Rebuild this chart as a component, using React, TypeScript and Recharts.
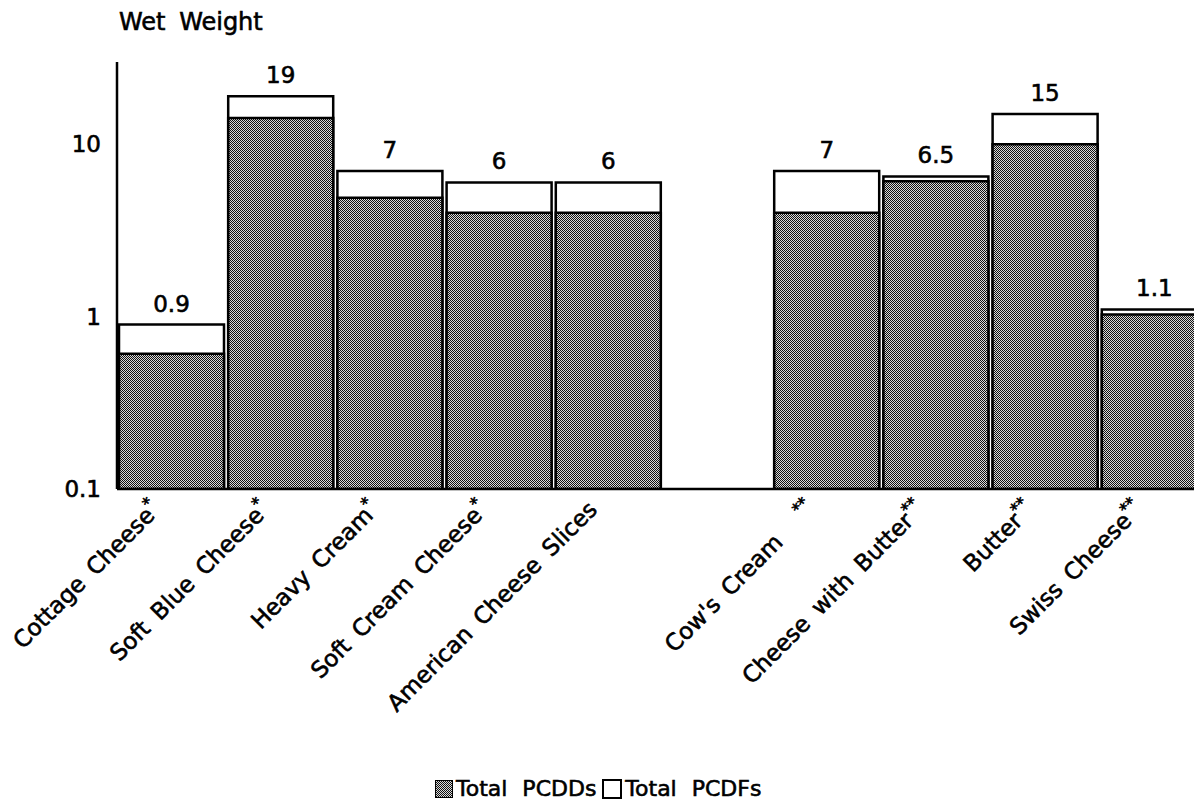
import React from 'react';
import { BarChart, Bar, XAxis, YAxis, LabelList, Tooltip } from 'recharts';

// 値は元図の対数目盛から読み取り（合計＝棒の上の数値、PCDDs＝網掛け部分の上端）
const categories = [
  'Cottage Cheese',
  'Soft Blue Cheese',
  'Heavy Cream',
  'Soft Cream Cheese',
  'American Cheese Slices',
  '',
  "Cow's Cream",
  'Cheese with Butter',
  'Butter',
  'Swiss Cheese',
];
const footnotes = ['*', '*', '*', '*', '', '', '   **', '**', '**', '**'];
const totalValues = [0.9, 19, 7, 6, 6, null, 7, 6.5, 15, 1.1];
const pcddValues = [0.61, 14.2, 4.9, 4.0, 4.0, null, 4.0, 6.1, 10, 1.03];
const yTicks = [0.1, 1, 10];

const FONT = '"DejaVu Sans", "Liberation Sans", sans-serif';
const DITHER_CSS = 'repeating-conic-gradient(#111 0 25%, #d9d9d9 0 50%) 0 0 / 2px 2px';
// スキャン原図の太めの文字に寄せるため、通常ウェイトに細いストロークを重ねる
const TEXT_STROKE = { stroke: '#000', strokeWidth: 0.6 };

const data = categories.map((name, i) => ({
  name,
  total: totalValues[i],
  pcdd: pcddValues[i],
  pcdf: totalValues[i] != null && pcddValues[i] != null ? +(totalValues[i]! - pcddValues[i]!).toFixed(2) : null,
}));

function FoodTick(props: any) {
  const { x, y, payload } = props;
  const label: string = payload?.value ?? '';
  if (!label) return null;
  const note = footnotes[categories.indexOf(label)];
  return (
    <g transform={`translate(${x - 10},${y + 14})`}>
      <text
        textAnchor="end"
        transform="rotate(-45)"
        fontSize={23}
        fill="#000"
        {...TEXT_STROKE}
        fontFamily={FONT}
        wordSpacing={5}
        style={{ whiteSpace: 'pre' }}
      >
        {label}
        {note && (
          <tspan fontSize={16} dy={-10}>
            {note}
          </tspan>
        )}
      </text>
    </g>
  );
}

export default function App() {
  return (
    <div
      style={{
        position: 'absolute',
        left: 0,
        top: 0,
        width: 1194,
        height: 801,
        overflow: 'hidden',
        background: '#fff',
        fontFamily: FONT,
        color: '#000',
        WebkitTextStroke: '0.6px #000',
      }}
    >
      <svg width={0} height={0} style={{ position: 'absolute' }}>
        <defs>
          <pattern id="pcddDither" width={2} height={2} patternUnits="userSpaceOnUse">
            <rect width={2} height={2} fill="#d9d9d9" />
            <rect width={1} height={1} fill="#111" />
            <rect x={1} y={1} width={1} height={1} fill="#111" />
          </pattern>
        </defs>
      </svg>

      <div style={{ position: 'absolute', left: 119, top: 10, fontSize: 24, lineHeight: '24px', wordSpacing: 6 }}>
        Wet Weight
      </div>

      <BarChart
        width={1210}
        height={801}
        data={data}
        margin={{ top: 62, right: 1, left: 0, bottom: 0 }}
        barCategoryGap={2}
      >
        <XAxis
          xAxisId="total"
          dataKey="name"
          height={312}
          interval={0}
          tickLine={false}
          axisLine={{ stroke: '#000', strokeWidth: 2.5 }}
          tick={<FoodTick />}
        />
        <XAxis xAxisId="pcdd" dataKey="name" hide height={0} />
        <YAxis
          scale="log"
          domain={[0.1, 30]}
          ticks={yTicks}
          allowDataOverflow
          width={117}
          tickLine={false}
          tickSize={6}
          tickMargin={10}
          axisLine={{ stroke: '#000', strokeWidth: 2.5 }}
          tick={{ fill: '#000', fontSize: 23, fontFamily: FONT, ...TEXT_STROKE }}
          tickFormatter={(v: number) => String(v)}
        />
        <Tooltip cursor={false} />
        <Bar
          xAxisId="total"
          dataKey="total"
          name="Total PCDFs"
          fill="#fff"
          stroke="#000"
          strokeWidth={2.5}
          isAnimationActive={false}
        >
          <LabelList
            dataKey="total"
            position="top"
            offset={13}
            fill="#000"
            fontSize={23}
            fontFamily={FONT}
            {...TEXT_STROKE}
            formatter={(v: unknown) => (v == null ? '' : String(v))}
          />
        </Bar>
        <Bar
          xAxisId="pcdd"
          dataKey="pcdd"
          name="Total PCDDs"
          fill="url(#pcddDither)"
          stroke="#000"
          strokeWidth={2.5}
          isAnimationActive={false}
        />
      </BarChart>

      <div
        style={{
          position: 'absolute',
          left: 435,
          top: 778,
          display: 'flex',
          alignItems: 'center',
          fontSize: 22,
          lineHeight: '22px',
          wordSpacing: 8,
          whiteSpace: 'pre',
        }}
      >
        <span style={{ width: 16, height: 16, border: '1.5px solid #000', background: DITHER_CSS, marginRight: 3 }} />
        <span>Total PCDDs</span>
        <span style={{ width: 16, height: 16, border: '2px solid #000', background: '#fff', margin: '0 3px 0 6px' }} />
        <span>Total PCDFs</span>
      </div>
    </div>
  );
}
